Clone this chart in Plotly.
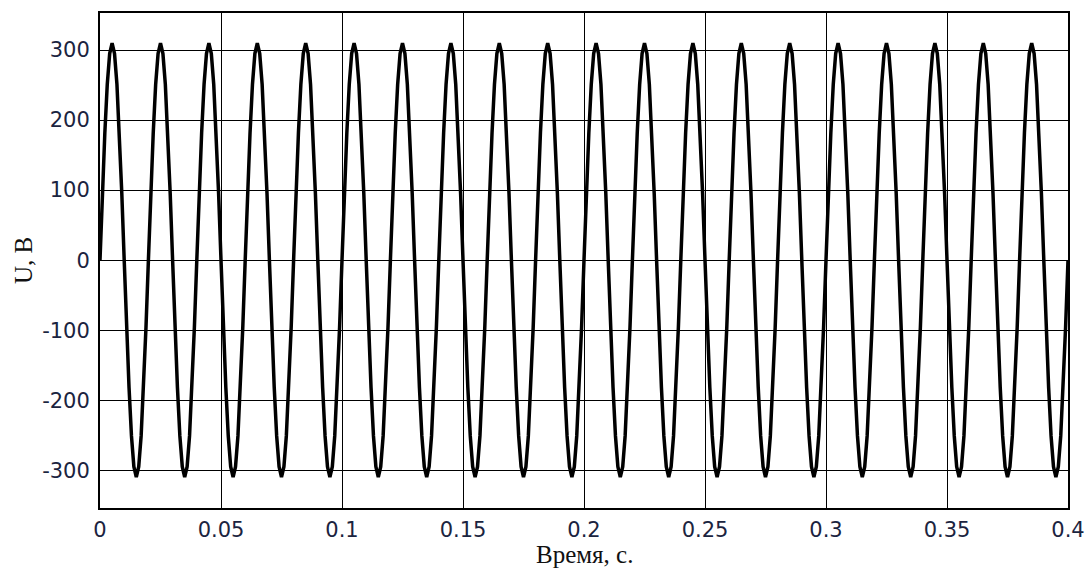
import plotly.graph_objects as go

# Напряжение, В (отсчёты через 1 мс, по одному периоду 50 Гц на строку)
u_volts = [
    0, 96, 182, 251, 295, 310, 295, 251, 182, 96, 0, -96, -182, -251, -295, -310, -295, -251, -182, -96,
    0, 96, 182, 251, 295, 310, 295, 251, 182, 96, 0, -96, -182, -251, -295, -310, -295, -251, -182, -96,
    0, 96, 182, 251, 295, 310, 295, 251, 182, 96, 0, -96, -182, -251, -295, -310, -295, -251, -182, -96,
    0, 96, 182, 251, 295, 310, 295, 251, 182, 96, 0, -96, -182, -251, -295, -310, -295, -251, -182, -96,
    0, 96, 182, 251, 295, 310, 295, 251, 182, 96, 0, -96, -182, -251, -295, -310, -295, -251, -182, -96,
    0, 96, 182, 251, 295, 310, 295, 251, 182, 96, 0, -96, -182, -251, -295, -310, -295, -251, -182, -96,
    0, 96, 182, 251, 295, 310, 295, 251, 182, 96, 0, -96, -182, -251, -295, -310, -295, -251, -182, -96,
    0, 96, 182, 251, 295, 310, 295, 251, 182, 96, 0, -96, -182, -251, -295, -310, -295, -251, -182, -96,
    0, 96, 182, 251, 295, 310, 295, 251, 182, 96, 0, -96, -182, -251, -295, -310, -295, -251, -182, -96,
    0, 96, 182, 251, 295, 310, 295, 251, 182, 96, 0, -96, -182, -251, -295, -310, -295, -251, -182, -96,
    0, 96, 182, 251, 295, 310, 295, 251, 182, 96, 0, -96, -182, -251, -295, -310, -295, -251, -182, -96,
    0, 96, 182, 251, 295, 310, 295, 251, 182, 96, 0, -96, -182, -251, -295, -310, -295, -251, -182, -96,
    0, 96, 182, 251, 295, 310, 295, 251, 182, 96, 0, -96, -182, -251, -295, -310, -295, -251, -182, -96,
    0, 96, 182, 251, 295, 310, 295, 251, 182, 96, 0, -96, -182, -251, -295, -310, -295, -251, -182, -96,
    0, 96, 182, 251, 295, 310, 295, 251, 182, 96, 0, -96, -182, -251, -295, -310, -295, -251, -182, -96,
    0, 96, 182, 251, 295, 310, 295, 251, 182, 96, 0, -96, -182, -251, -295, -310, -295, -251, -182, -96,
    0, 96, 182, 251, 295, 310, 295, 251, 182, 96, 0, -96, -182, -251, -295, -310, -295, -251, -182, -96,
    0, 96, 182, 251, 295, 310, 295, 251, 182, 96, 0, -96, -182, -251, -295, -310, -295, -251, -182, -96,
    0, 96, 182, 251, 295, 310, 295, 251, 182, 96, 0, -96, -182, -251, -295, -310, -295, -251, -182, -96,
    0, 96, 182, 251, 295, 310, 295, 251, 182, 96, 0, -96, -182, -251, -295, -310, -295, -251, -182, -96,
    0,
]
# шаг дискретизации, с
dt = 0.001
t_sec = [i * dt for i in range(len(u_volts))]

x_ticks = [0, 0.05, 0.1, 0.15, 0.2, 0.25, 0.3, 0.35, 0.4]
x_labels = ['0', '0.05', '0.1', '0.15', '0.2', '0.25', '0.3', '0.35', '0.4']
y_ticks = [-300, -200, -100, 0, 100, 200, 300]
y_labels = ['-300', '-200', '-100', '0', '100', '200', '300']

TICK_FONT = dict(family='DejaVu Sans', size=21, color='#1b2440')
TITLE_FONT = dict(family='Liberation Serif', size=25, color='#111111')

fig = go.Figure()
fig.add_trace(go.Scatter(
    x=t_sec, y=u_volts, mode='lines',
    line=dict(color='black', width=3.5),
    showlegend=False,
))

fig.update_layout(
    width=1090, height=568,
    margin=dict(l=100, r=22, t=13, b=60),
    paper_bgcolor='white', plot_bgcolor='white',
    xaxis=dict(
        range=[0, 0.4], tickvals=x_ticks, ticktext=x_labels,
        showgrid=True, gridcolor='black', gridwidth=1,
        showline=True, linecolor='black', linewidth=2, mirror=True,
        ticks='', zeroline=False, tickfont=TICK_FONT, ticklabelstandoff=2,
        automargin=False,
    ),
    yaxis=dict(
        range=[-354, 353], tickvals=y_ticks, ticktext=y_labels,
        showgrid=True, gridcolor='black', gridwidth=1,
        showline=True, linecolor='black', linewidth=2, mirror=True,
        ticks='', zeroline=False, tickfont=TICK_FONT, ticklabelstandoff=4,
        automargin=False,
    ),
    annotations=[
        dict(text='Время, с.', font=TITLE_FONT, showarrow=False,
             xref='paper', yref='paper', x=0.5, y=-0.093,
             xanchor='center', yanchor='middle'),
        dict(text='U, В', font=TITLE_FONT, showarrow=False, textangle=-90,
             xref='paper', yref='paper', x=-0.079, y=0.5,
             xanchor='center', yanchor='middle'),
    ],
)

# убрать стандартный отступ страницы
fig.write_html("out.html", config={'displayModeBar': False},
               post_script="document.body.style.margin='0px';")
